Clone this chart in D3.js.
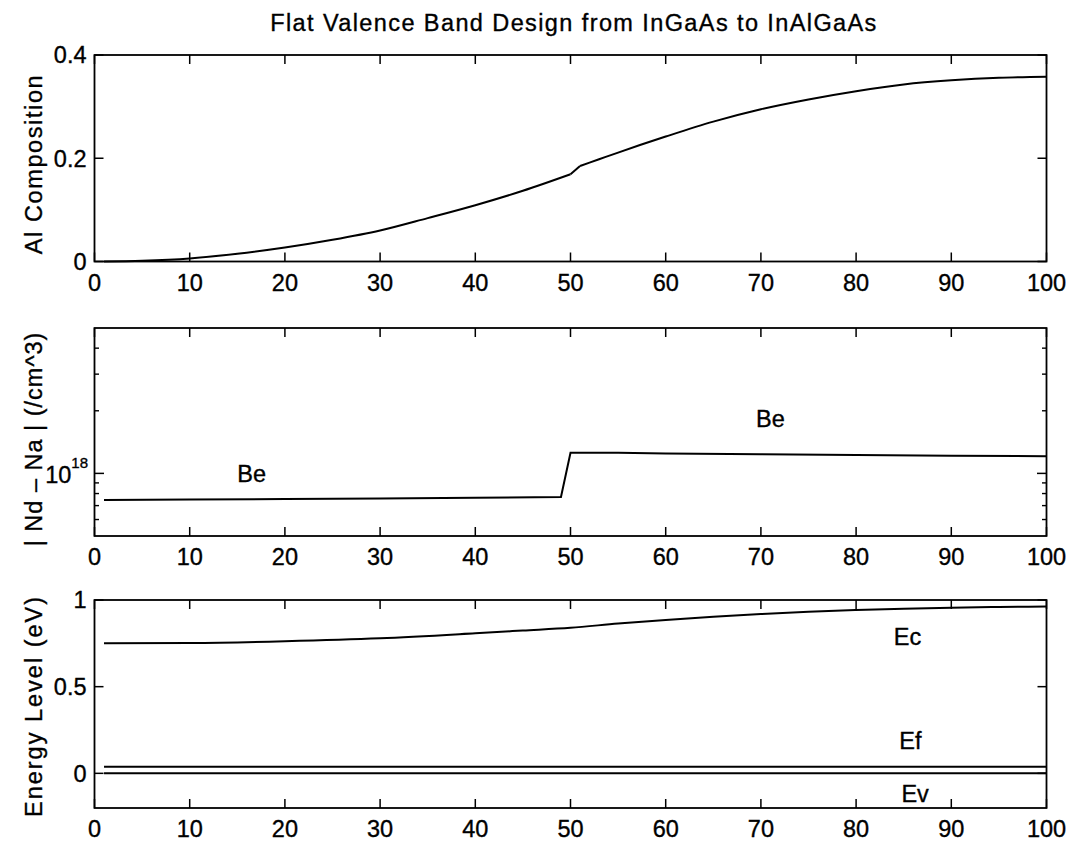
<!DOCTYPE html>
<html><head><meta charset="utf-8">
<script src="https://cdn.jsdelivr.net/npm/d3@7"></script>
<style>
body{margin:0;background:#fff;}
svg text{font-family:"Liberation Sans",Arial,Helvetica,sans-serif;fill:#000;stroke:#000;stroke-width:0.35px;}
</style></head>
<body><svg id="c" width="1072" height="841"></svg>
<script>
// ---------- data ----------
const titleText = "Flat Valence Band Design from InGaAs to InAlGaAs";
const xTicks = [0,10,20,30,40,50,60,70,80,90,100];

// panel 1: Al composition (two smooth segments joined by a short step at 50-51)
const alX1 = [1,5,10,15,20,25,30,35,40,45,50];
const alY1 = [0,0.0015,0.006,0.015,0.027,0.042,0.060,0.084,0.109,0.137,0.169];
const alX2 = [51,53,55,60,65,70,75,80,85,90,95,100];
const alY2 = [0.185,0.198,0.211,0.242,0.271,0.295,0.314,0.330,0.343,0.351,0.356,0.358];
const alTicks = [0,0.2,0.4];
const alTickLabels = ["0","0.2","0.4"];

// panel 2: doping |Nd - Na|
const dopX = [1,10,20,30,40,49,50,55,60,70,80,90,100];
const dopY = [7.44e17,7.48e17,7.53e17,7.58e17,7.64e17,7.7e17,1.256e18,1.255e18,1.245e18,1.235e18,1.225e18,1.215e18,1.21e18];
const dopMajor = [1e18];
const dopMinor = [6e17,7e17,8e17,9e17,2e18,3e18,4e18];
const dopLabels = [{x:16.5,y:1.0e18,t:"Be"},{x:71,y:1.83e18,t:"Be"}];

// panel 3: energy levels
const ecX = [1,10,20,30,40,45,50,55,60,65,70,75,80,85,90,95,100];
const ecY = [0.750,0.752,0.762,0.779,0.808,0.824,0.840,0.864,0.885,0.903,0.919,0.932,0.942,0.950,0.956,0.960,0.962];
const efX = [1,100];
const efY = [0.0375,0.0375];
const evX = [1,100];
const evY = [0,0];
const eTicks = [0,0.5,1];
const eTickLabels = ["0","0.5","1"];
const bandLabels = [{x:85.4,y:0.79,t:"Ec"},{x:85.7,y:0.19,t:"Ef"},{x:86.2,y:-0.115,t:"Ev"}];

// ---------- layout ----------
const svg = d3.select("#c");
const L = 94.5, R = 1046.5;
const FS = 23.5;
const x = d3.scaleLinear().domain([0,100]).range([L,R]);

svg.append("text").attr("x",574).attr("y",31).attr("text-anchor","middle")
  .attr("font-size",FS).attr("letter-spacing","1.4px").text(titleText);

function box(top,bottom){
  svg.append("rect").attr("x",L).attr("y",top).attr("width",R-L).attr("height",bottom-top)
    .attr("fill","none").attr("stroke","#000").attr("stroke-width",1.8);
}
function xAxis(top,bottom){
  const g = svg.append("g");
  xTicks.forEach(t=>{
    const px = x(t);
    g.append("line").attr("x1",px).attr("x2",px).attr("y1",bottom).attr("y2",bottom-9).attr("stroke","#000").attr("stroke-width",1.5);
    g.append("line").attr("x1",px).attr("x2",px).attr("y1",top).attr("y2",top+9).attr("stroke","#000").attr("stroke-width",1.5);
    g.append("text").attr("x",px).attr("y",bottom+29).attr("text-anchor","middle").attr("font-size",FS).text(t);
  });
}
function yTicksLin(y,ticks,labels){
  ticks.forEach((t,i)=>{
    const py = y(t);
    svg.append("line").attr("x1",L).attr("x2",L+9).attr("y1",py).attr("y2",py).attr("stroke","#000").attr("stroke-width",1.5);
    svg.append("line").attr("x1",R).attr("x2",R-9).attr("y1",py).attr("y2",py).attr("stroke","#000").attr("stroke-width",1.5);
    svg.append("text").attr("x",L-8).attr("y",py+8.4).attr("text-anchor","end").attr("font-size",FS).text(labels[i]);
  });
}
function yLabel(cy,text,ls){
  svg.append("text").attr("transform",`translate(42,${cy}) rotate(-90)`).attr("text-anchor","middle")
    .attr("font-size",FS).attr("letter-spacing",ls+"px").text(text);
}
function drawLine(xs,ys,y,curve){
  const pts = xs.map((v,i)=>[v,ys[i]]);
  svg.append("path").datum(pts)
    .attr("d",d3.line().x(d=>x(d[0])).y(d=>y(d[1])).curve(curve||d3.curveLinear))
    .attr("fill","none").attr("stroke","#000").attr("stroke-width",2);
}

// panel 1
{
  const top=55,bottom=261.5;
  const y = d3.scaleLinear().domain([0,0.4]).range([bottom,top]);
  drawLine(alX1,alY1,y,d3.curveMonotoneX);
  drawLine([alX1[alX1.length-1],alX2[0]],[alY1[alY1.length-1],alY2[0]],y);
  drawLine(alX2,alY2,y,d3.curveMonotoneX);
  box(top,bottom); xAxis(top,bottom); yTicksLin(y,alTicks,alTickLabels);
  yLabel(164,"Al Composition",1.6);
}
// panel 2
{
  const top=328,bottom=536;
  const y = d3.scaleLog().domain([5e17,5e18]).range([bottom,top]);
  drawLine(dopX,dopY,y);
  box(top,bottom); xAxis(top,bottom);
  dopMajor.forEach(t=>{
    const py=y(t);
    svg.append("line").attr("x1",L).attr("x2",L+9.5).attr("y1",py).attr("y2",py).attr("stroke","#000").attr("stroke-width",1.5);
    svg.append("line").attr("x1",R).attr("x2",R-9.5).attr("y1",py).attr("y2",py).attr("stroke","#000").attr("stroke-width",1.5);
    const tx = svg.append("text").attr("x",L-6.5).attr("y",py+9.4).attr("text-anchor","end").attr("font-size",FS);
    tx.append("tspan").text("10");
    tx.append("tspan").attr("dy",-15).attr("font-size",15).text(String(Math.round(Math.log10(t))));
  });
  dopMinor.forEach(t=>{
    const py=y(t);
    svg.append("line").attr("x1",L).attr("x2",L+4.5).attr("y1",py).attr("y2",py).attr("stroke","#000").attr("stroke-width",1.4);
    svg.append("line").attr("x1",R).attr("x2",R-4.5).attr("y1",py).attr("y2",py).attr("stroke","#000").attr("stroke-width",1.4);
  });
  dopLabels.forEach(d=>{
    svg.append("text").attr("x",x(d.x)).attr("y",y(d.y)+8.4).attr("text-anchor","middle").attr("font-size",FS).text(d.t);
  });
  yLabel(439,"| Nd – Na | (/cm^3)",1.0);
}
// panel 3
{
  const top=600,bottom=808;
  const y = d3.scaleLinear().domain([-0.2,1]).range([bottom,top]);
  drawLine(ecX,ecY,y,d3.curveMonotoneX);
  drawLine(efX,efY,y);
  drawLine(evX,evY,y);
  box(top,bottom); xAxis(top,bottom); yTicksLin(y,eTicks,eTickLabels);
  bandLabels.forEach(d=>{
    svg.append("text").attr("x",x(d.x)).attr("y",y(d.y)+8.4).attr("text-anchor","middle").attr("font-size",FS).text(d.t);
  });
  yLabel(706,"Energy Level (eV)",2.0);
}
</script></body></html>
